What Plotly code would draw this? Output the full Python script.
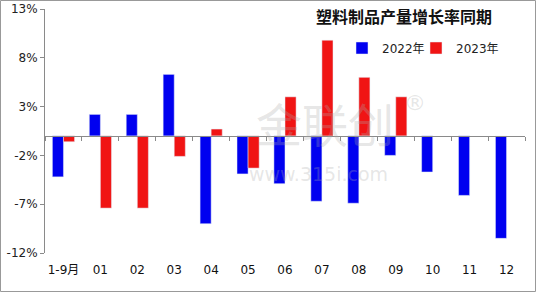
import plotly.graph_objects as go

categories = ["1-9月", "01", "02", "03", "04", "05", "06", "07", "08", "09", "10", "11", "12"]
values_2022 = [-4.2, 2.2, 2.2, 6.3, -9.0, -3.9, -4.9, -6.7, -6.9, -2.0, -3.7, -6.1, -10.5]
values_2023 = [-0.6, -7.4, -7.4, -2.1, 0.7, -3.3, 4.0, 9.8, 6.0, 4.0, None, None, None]
y_ticks = [13, 8, 3, -2, -7, -12]
y_tick_labels = ["13%", "8%", "3%", "-2%", "-7%", "-12%"]

W, H = 536, 292
ML, MR, MT, MB = 45, 11, 9, 39
PW, PH = W - ML - MR, H - MT - MB
ymin, ymax = -12, 13

fig = go.Figure()
fig.add_trace(go.Bar(name="2022年", x=categories, y=values_2022, marker_color="#0000f0",
                     legend="legend"))
fig.add_trace(go.Bar(name="2023年", x=categories, y=values_2023, marker_color="#f01414",
                     legend="legend2"))
# invisible helper trace for the zero-crossing axis
fig.add_trace(go.Scatter(x=[-0.5, 12.5], y=[0, 0], xaxis="x2", mode="lines",
                         line=dict(width=0), showlegend=False, hoverinfo="skip"))

font_cjk = "Noto Sans CJK SC"
leg_font = dict(family="DejaVu Sans, " + font_cjk, size=12, color="#222")
leg_y = (H - MB - 48) / PH
fig.update_layout(
    width=W, height=H,
    margin=dict(l=ML, r=MR, t=MT, b=MB, autoexpand=False),
    paper_bgcolor="white", plot_bgcolor="white",
    barmode="group", bargap=0.4, bargroupgap=0,
    font=dict(family="DejaVu Sans, " + font_cjk, size=11, color="#222"),
    title=dict(text="<b>塑料制品产量增长率同期</b>", x=404 / W, y=1 - 17 / H,
               xanchor="center", yanchor="middle",
               font=dict(family=font_cjk, size=16, color="#111")),
    legend=dict(x=(342 - ML) / PW, y=leg_y, xanchor="left", yanchor="middle",
                bgcolor="rgba(0,0,0,0)", font=leg_font, itemwidth=30),
    legend2=dict(x=(416 - ML) / PW, y=leg_y, xanchor="left", yanchor="middle",
                 bgcolor="rgba(0,0,0,0)", font=leg_font, itemwidth=30),
    xaxis=dict(type="category", showline=False, ticks="", showgrid=False,
               tickfont=dict(size=12, family="DejaVu Sans, " + font_cjk, color="#111"),
               ticklabelstandoff=8),
    xaxis2=dict(overlaying="x", anchor="free",
                position=(0 - ymin) / (ymax - ymin),
                range=[-0.5, 12.5], showline=True, linecolor="#8a8a8a", linewidth=1,
                ticks="outside", ticklen=4, tickcolor="#8a8a8a",
                tickvals=[i - 0.5 for i in range(14)], showticklabels=False,
                showgrid=False, zeroline=False),
    yaxis=dict(range=[ymin, ymax], tickvals=y_ticks, ticktext=y_tick_labels,
               showline=True, linecolor="#8a8a8a", linewidth=1,
               ticks="outside", ticklen=4, tickcolor="#8a8a8a",
               showgrid=False, zeroline=False,
               tickfont=dict(size=12, family="DejaVu Sans", color="#222")),
)

# outer frame
fig.add_shape(type="rect", xref="paper", yref="paper",
              x0=-ML / PW + 0.5 / PW, x1=1 + MR / PW - 0.5 / PW,
              y0=-MB / PH + 0.5 / PH, y1=1 + MT / PH - 0.5 / PH,
              line=dict(color="#999", width=1), layer="below")

# watermark
fig.add_annotation(text="金联创", xref="paper", yref="paper",
                   x=(325 - ML) / PW, y=(H - MB - 122) / PH, showarrow=False,
                   font=dict(family=font_cjk, size=46, color="rgba(170,170,170,0.3)"))
fig.add_annotation(text="®", xref="paper", yref="paper",
                   x=(428 - ML) / PW, y=(H - MB - 102) / PH, showarrow=False,
                   font=dict(family="DejaVu Sans", size=22, color="rgba(170,170,170,0.3)"))
fig.add_annotation(text="www.315i.com", xref="paper", yref="paper",
                   x=(318 - ML) / PW, y=(H - MB - 187) / PH, showarrow=False,
                   font=dict(family="DejaVu Sans", size=19, color="rgba(170,170,170,0.3)"))

fig.write_html("out.html")
